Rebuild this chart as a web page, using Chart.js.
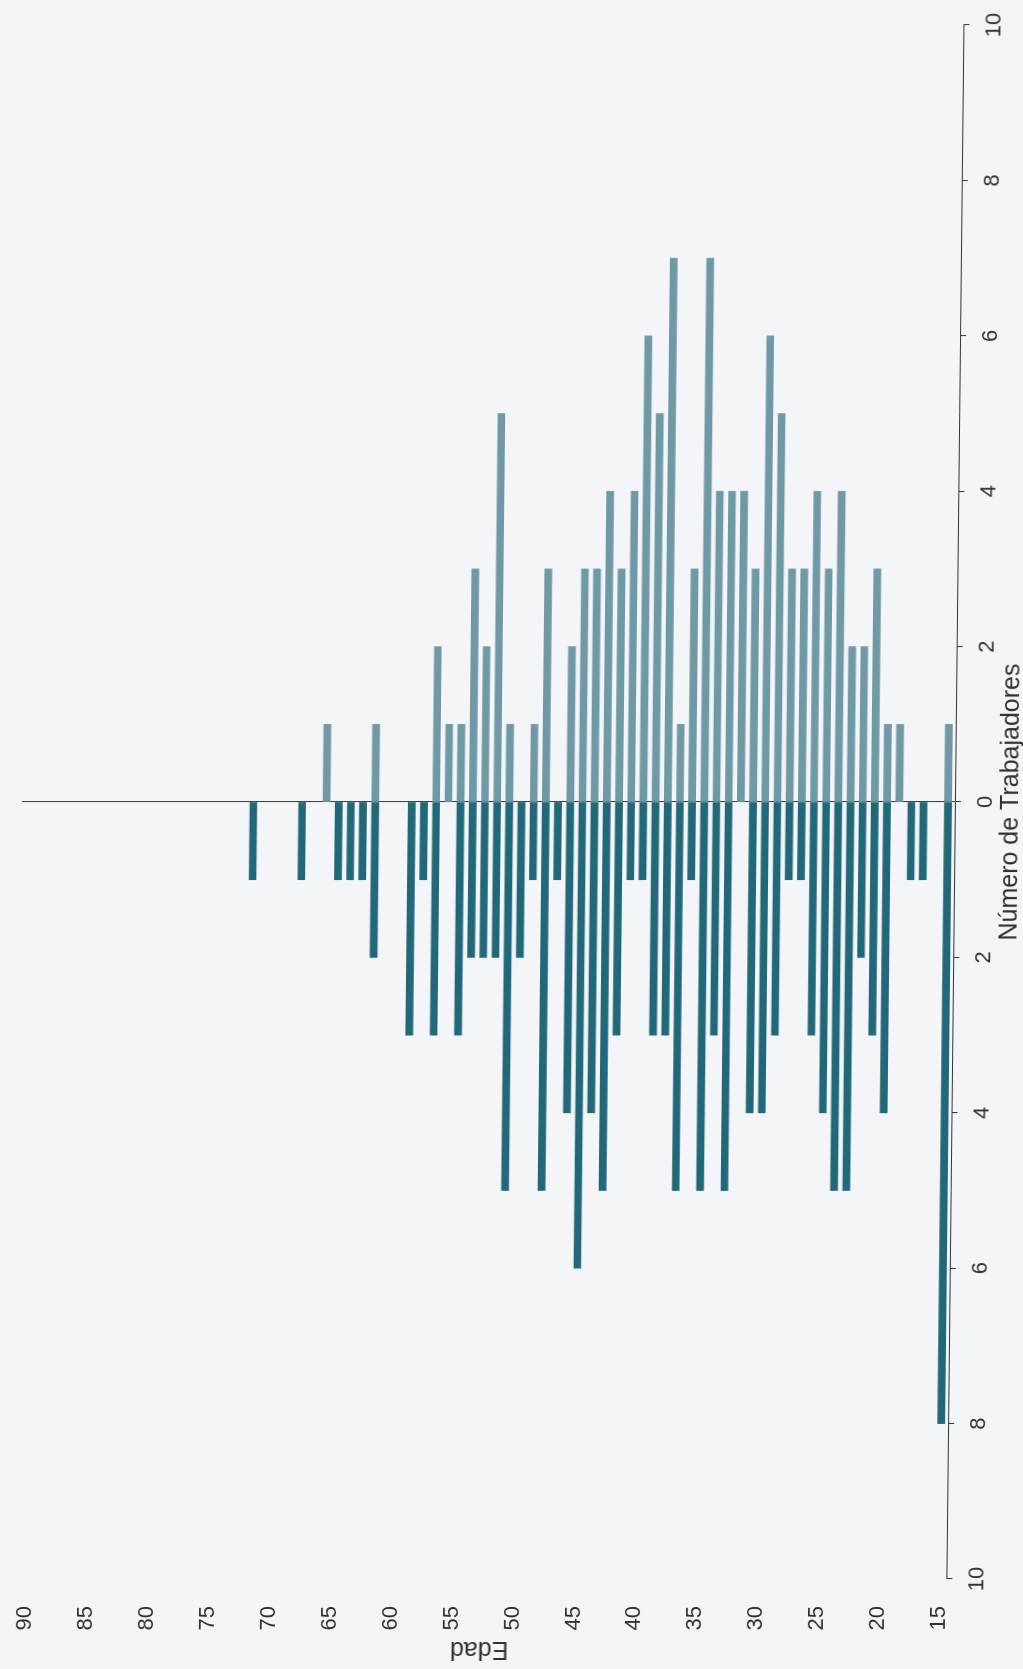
<!DOCTYPE html>
<html>
<head>
<meta charset="utf-8">
<script src="https://cdn.jsdelivr.net/npm/chart.js@4.4.1/dist/chart.umd.min.js"></script>
<style>
  html, body { margin: 0; padding: 0; }
  body {
    width: 1023px;
    height: 1669px;
    overflow: hidden;
    background: #f3f5f9;
    position: relative;
  }
  /* the scanned page lies a quarter turn round and is slightly sheared,
     so the chart is drawn upright and then turned */
  #wrap {
    position: absolute;
    left: 0;
    top: 0;
    width: 1669px;
    height: 1040px;
    transform-origin: 0 0;
    transform: translate(-9.6px, 1669px) skewX(-0.63deg) rotate(-90deg);
  }
</style>
</head>
<body>
<div id="wrap"><canvas id="pyramid" width="1669" height="1040"></canvas></div>
<script>
// edad de cada barra
const ages = [15, 16, 17, 18, 19, 20, 21, 22, 23, 24, 25, 26, 27, 28, 29, 30, 31, 32, 33, 34,
  35, 36, 37, 38, 39, 40, 41, 42, 43, 44, 45, 46, 47, 48, 49, 50, 51, 52, 53, 54,
  55, 56, 57, 58, 59, 60, 61, 62, 63, 64, 65, 66, 67, 68, 69, 70, 71, 72];

// trabajadores a la izquierda del cero (barras oscuras)
const leftCounts = [8, 0, 1, 1, 0, 4, 3, 2, 5, 5, 4, 3, 1, 1, 3, 4, 4, 0, 5, 3,
  5, 1, 5, 3, 3, 1, 1, 3, 5, 4, 6, 4, 1, 5, 1, 2, 5, 2, 2, 2,
  3, 0, 3, 1, 3, 0, 0, 2, 1, 1, 1, 0, 0, 1, 0, 0, 0, 1];

// trabajadores a la derecha del cero (barras claras)
const rightCounts = [1, 0, 0, 0, 1, 1, 3, 2, 2, 4, 3, 4, 3, 3, 5, 6, 3, 4, 4, 4,
  7, 3, 1, 7, 5, 6, 4, 3, 4, 3, 3, 2, 0, 3, 1, 0, 1, 5, 2, 3,
  1, 1, 2, 0, 0, 0, 0, 1, 0, 0, 0, 1, 0, 0, 0, 0, 0, 0];

const ageTicks = [15, 20, 25, 30, 35, 40, 45, 50, 55, 60, 65, 70, 75, 80, 85, 90];
const countTicks = [-10, -8, -6, -4, -2, 0, 2, 4, 6, 8, 10];

const textColor = "#303030";
const fontFamily = "'Liberation Sans', Arial, sans-serif";

// zero counts draw nothing
const toPoint = (v, a) => ({ x: v === 0 ? null : v, y: a });

const ctx = document.getElementById("pyramid").getContext("2d");

new Chart(ctx, {
  type: "bar",
  data: {
    datasets: [
      {
        label: "izquierda",
        data: ages.map((a, i) => toPoint(-leftCounts[i], a)),
        backgroundColor: "#216878",
        borderWidth: 0,
        barThickness: 7,
        grouped: false,
      },
      {
        label: "derecha",
        data: ages.map((a, i) => toPoint(rightCounts[i], a)),
        backgroundColor: "#7099a6",
        borderWidth: 0,
        barThickness: 7,
        grouped: false,
      },
    ],
  },
  options: {
    indexAxis: "y",
    responsive: false,
    animation: false,
    layout: { padding: { top: 22, right: 25, left: 0, bottom: 0 } },
    plugins: {
      legend: { display: false },
      tooltip: { enabled: false },
    },
    scales: {
      x: {
        type: "linear",
        position: "bottom",
        min: -10,
        max: 10,
        offset: false,
        afterBuildTicks: (s) => {
          s.ticks = countTicks.map((v) => ({ value: v }));
        },
        afterFit: (s) => {
          s.height = 85;
          s.paddingLeft = 0;
          s.paddingRight = 0;
        },
        grid: {
          color: (c) => (c.tick && c.tick.value === 0 ? "#383838" : "rgba(0,0,0,0)"),
          tickColor: "#333",
          tickLength: 6,
          lineWidth: 1,
        },
        border: { display: true, color: "#333", width: 1 },
        ticks: {
          color: textColor,
          font: { family: fontFamily, size: 22 },
          padding: 12,
          maxRotation: 0,
          callback: (v) => Math.abs(v),
        },
        title: {
          display: true,
          text: "Número de Trabajadores",
          color: textColor,
          font: { family: fontFamily, size: 25 },
          padding: { top: 0, bottom: 14 },
        },
      },
      y: {
        type: "linear",
        position: "left",
        min: 14.43,
        max: 91,
        offset: false,
        afterBuildTicks: (s) => {
          s.ticks = ageTicks.map((v) => ({ value: v }));
        },
        afterFit: (s) => {
          s.width = 90;
          s.paddingTop = 0;
          s.paddingBottom = 0;
        },
        grid: { display: false, drawTicks: false },
        border: { display: false },
        ticks: {
          color: textColor,
          font: { family: fontFamily, size: 22 },
          padding: 27,
        },
        title: {
          display: true,
          text: "Edad",
          color: textColor,
          font: { family: fontFamily, size: 25 },
          padding: { top: 5, bottom: 0 },
        },
      },
    },
  },
});
</script>
</body>
</html>
